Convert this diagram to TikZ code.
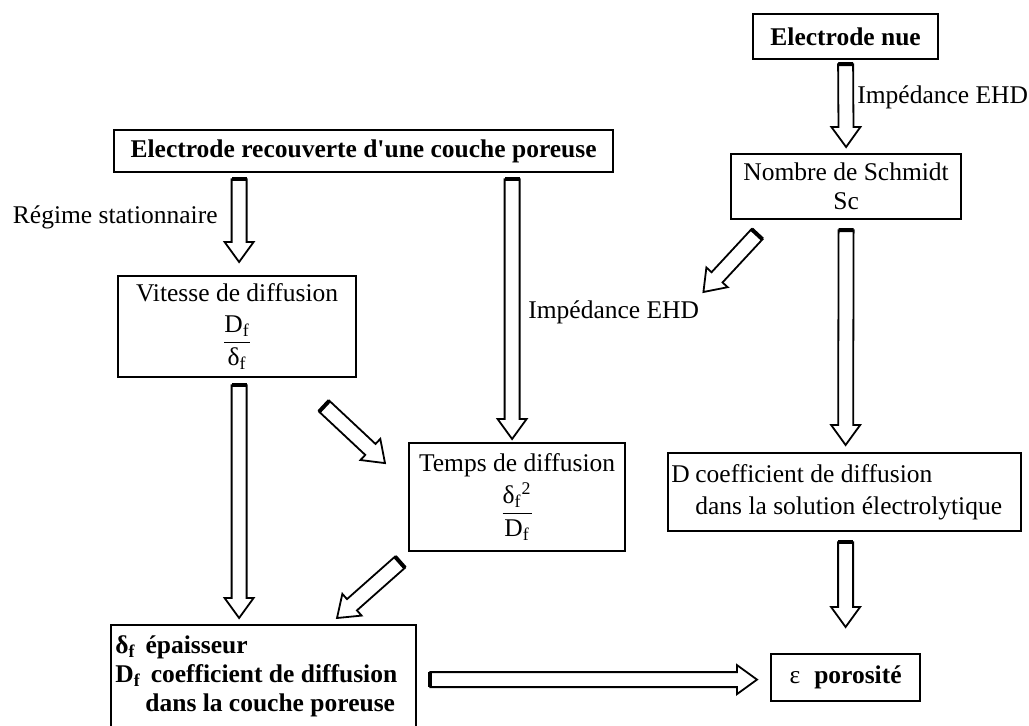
\documentclass[tikz,border=0pt]{standalone}
\usepackage{fontspec}
\setmainfont{Liberation Serif}
\usetikzlibrary{calc}
\newdimen\upx \upx=0.5pt
\newcommand\fs{\fontsize{12.75pt}{14.5pt}\selectfont}
\tikzset{
  box/.style={draw, line width=1.1pt, anchor=north west, inner sep=0pt, font=\fs, align=center},
  lbl/.style={inner sep=0pt, font=\fs},
  btxt/.style={inner sep=0pt, anchor=west, align=left},
  barrow/.style={draw, fill=white, line width=0.9pt, line join=miter},
  barrowcap/.style={line width=2pt}
}
\newcommand\blockarrow[2]{%
  \path #1 coordinate (bas) #2 coordinate (bat);
  \path ($(bat)!10pt!(bas)$) coordinate (bac);
  \draw[barrow] ($(bas)!3.75pt!90:(bat)$) -- ($(bac)!3.75pt!90:(bat)$) -- ($(bac)!7.25pt!90:(bat)$) -- (bat) -- ($(bac)!7.25pt!-90:(bat)$) -- ($(bac)!3.75pt!-90:(bat)$) -- ($(bas)!3.75pt!-90:(bat)$) -- cycle;
  \draw[barrowcap] ($(bas)!3.75pt!90:(bat)$) -- ($(bas)!3.75pt!-90:(bat)$);
}
\newcommand\sub[1]{\textsubscript{#1}}
\begin{document}
\begin{tikzpicture}[x=0.5pt, y=-0.5pt]
\useasboundingbox[fill=white] (0,0) rectangle (1029,725);

% boxes
\node[box, minimum width=185*\upx, minimum height=45*\upx] (nue) at (752,13) {\textbf{Electrode nue}};
\node[box, minimum width=499*\upx, minimum height=42*\upx] (rec) at (113,129) {\textbf{Electrode recouverte d\textquotesingle une couche poreuse}};
\node[box, minimum width=230*\upx, minimum height=65*\upx] (sch) at (730,153) {Nombre de Schmidt\\Sc};
\node[box, minimum width=238*\upx, minimum height=101*\upx] (vit) at (117,275)
  {Vitesse de diffusion\\[6pt]$\displaystyle\frac{\mbox{D\sub{f}}}{\mbox{δ\sub{f}}}$};
\node[box, minimum width=216*\upx, minimum height=108*\upx] (tps) at (408,442)
  {Temps de diffusion\\[2pt]$\displaystyle\frac{\mbox{δ\sub{f}\textsuperscript{2}}}{\mbox{D\sub{f}}}$};
\node[box, minimum width=353*\upx, minimum height=78*\upx] (dsol) at (667,452) {};
\node[btxt, font=\fontsize{12.75pt}{16pt}\selectfont] (dsoltxt) at ($(dsol.west)+(4,0)$)
  {\makebox[12pt][l]{D}coefficient de diffusion\\\hspace*{12pt}dans la solution électrolytique};
\node[box, minimum width=305*\upx, minimum height=102*\upx] (ep) at (110,624) {};
\node[btxt, font=\fontsize{12.75pt}{14.5pt}\selectfont\bfseries] (eptxt) at ($(ep.west)+(5,0)$)
  {δ\sub{f}\hspace{5pt}épaisseur\\D\sub{f}\hspace{5pt}coefficient de diffusion\\\hspace*{15pt}dans la couche poreuse};
\node[box, minimum width=149*\upx, minimum height=47*\upx] (poro) at (770,653) {ε\hspace{7pt}\textbf{porosité}};

% labels
\node[lbl, anchor=west] (imp1) at (857,97) {Impédance EHD};
\node[lbl, anchor=east] (reg) at (218,217) {Régime stationnaire};
\node[lbl, anchor=west] (imp2) at (528,312) {Impédance EHD};

% arrows
\blockarrow{($(nue.south)+(0,4)$)}{($(sch.north)+(0,-6)$)}
\blockarrow{($(rec.south -| vit.north)+(2,6)$)}{($(vit.north)+(2,-13)$)}
\blockarrow{($(rec.south -| tps.north)+(-5,6)$)}{($(tps.north)+(-5,-3)$)}
\blockarrow{($(sch.south west)+(27,14)$)}{($(imp2.east)+(4,-20)$)}
\blockarrow{($(sch.south)+(0,10)$)}{($(dsol.north)+(1,-7)$)}
\blockarrow{($(vit.south)+(2,7)$)}{($(vit.south |- ep.north)+(2,-6)$)}
\blockarrow{($(vit.south east)+(-33,28)$)}{($(tps.west)+(-23,-34)$)}
\blockarrow{($(tps.south west)+(-8,10)$)}{($(ep.north west)+(227,-6)$)}
\blockarrow{($(dsol.south)+(1,10)$)}{($(poro.north)+(0,-26)$)}
\blockarrow{($(ep.east |- poro.west)+(13,2)$)}{($(poro.west)+(-13,2)$)}
\end{tikzpicture}
\end{document}
